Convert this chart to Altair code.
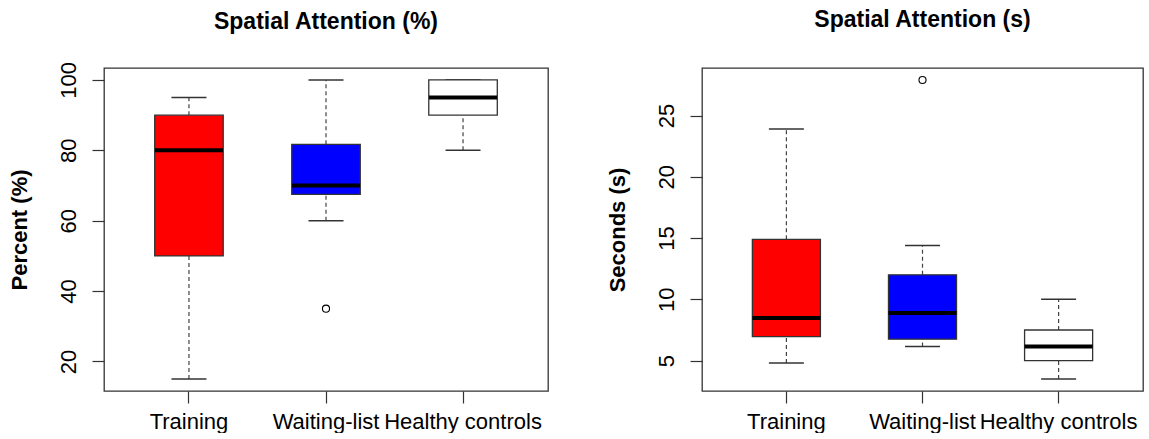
import altair as alt
import pandas as pd

groups = ["Training", "Waiting-list", "Healthy controls"]
box_colors = ["#FF0000", "#0000FF", "#FFFFFF"]

# Spatial Attention (%)
pct_lo = [15, 60, 80]
pct_q1 = [50, 67.5, 90]
pct_med = [80, 70, 95]
pct_q3 = [90, 81.7, 100]
pct_hi = [95, 100, 100]
pct_out_group = ["Waiting-list"]
pct_out_value = [35]
pct_ticks = [20, 40, 60, 80, 100]
pct_domain = [11.6, 103.4]

# Spatial Attention (s)
sec_lo = [4.8, 6.15, 3.5]
sec_q1 = [6.95, 6.75, 5.0]
sec_med = [8.47, 8.88, 6.15]
sec_q3 = [14.9, 12.0, 7.5]
sec_hi = [23.9, 14.4, 10.0]
sec_out_group = ["Waiting-list"]
sec_out_value = [27.9]
sec_ticks = [5, 10, 15, 20, 25]
sec_domain = [2.52, 28.88]

FONT = "Liberation Sans"
FRAME = "#333333"


def panel(title, ytitle, lo, q1, med, q3, hi, og, ov, ticks, domain, width, title_offset):
    df = pd.DataFrame({"g": groups, "lo": lo, "q1": q1, "med": med, "q3": q3, "hi": hi})
    odf = pd.DataFrame({"g": og, "v": ov})
    xs = alt.X("g:N", sort=groups, title=None,
               scale=alt.Scale(paddingInner=0, paddingOuter=0.12),
               axis=alt.Axis(labelAngle=0, labelPadding=8))
    ysc = alt.Scale(domain=domain, nice=False, zero=False)
    yax = alt.Axis(values=ticks, labelAngle=270, labelAlign="center", labelBaseline="bottom",
                   labelPadding=12, title=ytitle, titleFont=FONT, titleFontWeight="bold",
                   titleFontSize=22, titlePadding=26, titleColor="black")
    base = alt.Chart(df)
    wh_up = base.mark_rule(color="#444444", strokeDash=[4, 3], strokeWidth=1.2).encode(
        x=xs, y=alt.Y("q3:Q", scale=ysc, axis=yax), y2="hi:Q")
    wh_dn = base.mark_rule(color="#444444", strokeDash=[4, 3], strokeWidth=1.2).encode(
        x=xs, y=alt.Y("lo:Q", scale=ysc, axis=yax), y2="q1:Q")
    cap_hi = base.mark_tick(color=FRAME, size=35, thickness=1.5, orient="horizontal",
                            opacity=1).encode(x=xs, y=alt.Y("hi:Q", scale=ysc, axis=yax))
    cap_lo = base.mark_tick(color=FRAME, size=35, thickness=1.5, orient="horizontal",
                            opacity=1).encode(x=xs, y=alt.Y("lo:Q", scale=ysc, axis=yax))
    box = base.mark_bar(width={"band": 0.5}, stroke=FRAME, strokeWidth=1.3, opacity=1).encode(
        x=xs, y=alt.Y("q1:Q", scale=ysc, axis=yax), y2="q3:Q",
        fill=alt.Fill("g:N", scale=alt.Scale(domain=groups, range=box_colors), legend=None))
    median = base.mark_tick(color="black", size=68, thickness=4, orient="horizontal",
                            opacity=1).encode(x=xs, y=alt.Y("med:Q", scale=ysc, axis=yax))
    outl = alt.Chart(odf).mark_point(shape="circle", filled=False, color="black", size=50,
                                     strokeWidth=1.1, opacity=1).encode(
        x=alt.X("g:N", sort=groups, title=None), y=alt.Y("v:Q", scale=ysc, axis=yax))
    return alt.layer(wh_up, wh_dn, cap_hi, cap_lo, box, median, outl).properties(
        width=width, height=323,
        title=alt.TitleParams(title, font=FONT, fontSize=23, fontWeight="bold",
                              anchor="middle", frame="group", offset=title_offset,
                              color="black"))


left = panel("Spatial Attention (%)", "Percent (%)", pct_lo, pct_q1, pct_med, pct_q3, pct_hi,
             pct_out_group, pct_out_value, pct_ticks, pct_domain, 444, 28)
right = panel("Spatial Attention (s)", "Seconds (s)", sec_lo, sec_q1, sec_med, sec_q3, sec_hi,
              sec_out_group, sec_out_value, sec_ticks, sec_domain, 441, 36)

chart = alt.hconcat(left, right, spacing=56).properties(
    padding={"left": 7, "top": 8, "right": 0, "bottom": 0}, background="white"
).configure_view(stroke=FRAME, strokeWidth=1.3).configure_axis(
    domain=False, grid=False, tickColor=FRAME, tickSize=12, tickWidth=1.2,
    labelFont=FONT, labelFontSize=22, labelColor="black"
)

chart.save("out.html", embed_options={"renderer": "svg", "actions": False})
